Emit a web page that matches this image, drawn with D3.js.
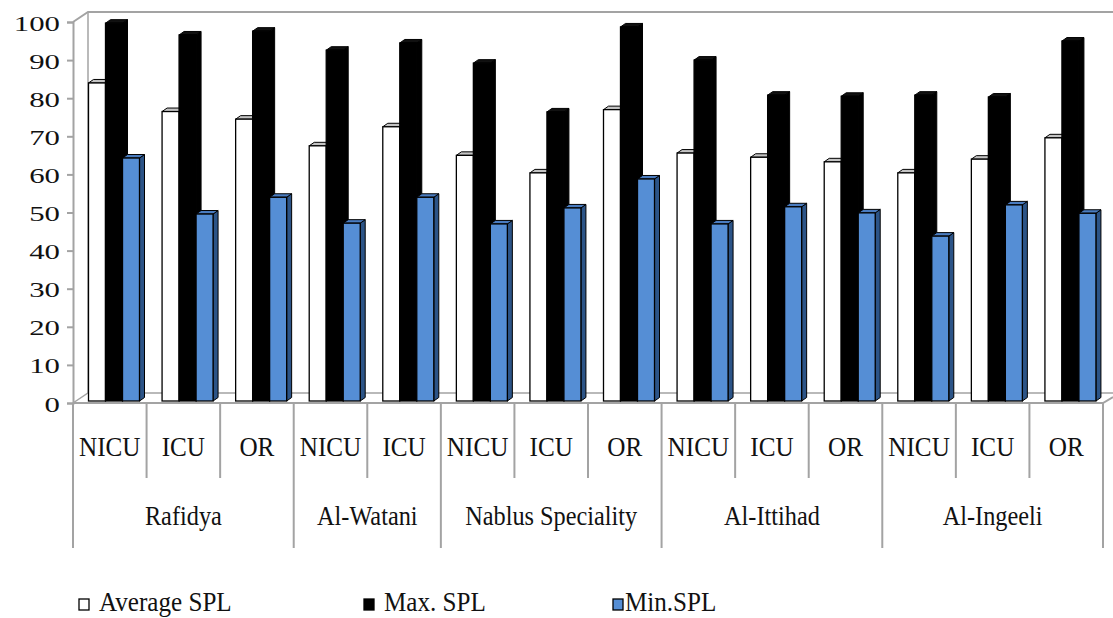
<!DOCTYPE html>
<html>
<head>
<meta charset="utf-8">
<script src="https://cdn.jsdelivr.net/npm/d3@7"></script>
<style>
  html, body { margin: 0; padding: 0; background: #fff; }
  svg { display: block; }
</style>
</head>
<body>
<svg id="chart" width="1113" height="618"></svg>
<script>
// ---- data ----
const categories = ["NICU","ICU","OR","NICU","ICU","NICU","ICU","OR","NICU","ICU","OR","NICU","ICU","OR"];
const hospitals = ["Rafidya","Al-Watani","Nablus Speciality","Al-Ittihad","Al-Ingeeli"];
const hospitalSizes = [3,2,3,3,3];
const avgSPL = [84, 76.5, 74.5, 67.5, 72.5, 65, 60.4, 77, 65.6, 64.5, 63.3, 60.4, 64, 69.6];
const maxSPL = [99.7, 96.6, 97.6, 92.6, 94.5, 89.2, 76.4, 98.7, 90, 80.8, 80.5, 80.8, 80.3, 95];
const minSPL = [64.3, 49.6, 54, 47.2, 54, 47, 51.2, 58.8, 47, 51.5, 49.9, 43.8, 52, 49.8];
const seriesNames = ["Average SPL","Max. SPL","Min.SPL"];
const yTicks = [0,10,20,30,40,50,60,70,80,90,100];

// ---- layout ----
const FONT = '"Liberation Serif", monospace';
const svg = d3.select("#chart");
const axisColor = "#a3a3a3";
const left = 73, right = 1103, dxW = 15, dyW = 10;
const x0 = d3.scaleBand().domain(d3.range(categories.length)).range([left, right]);
const x1 = d3.scaleBand().domain([0,1,2]).range([15.5, 66.5]);
const y = d3.scaleLinear().domain([0,100]).range([403, 22]);
const barBottom = y(0) - 2;
const ddx = 5, ddy = 3.5;

const styles = [
  {front:"#ffffff", top:"#c4c4c4", side:"#d8d8d8"},
  {front:"#000000", top:"#111111", side:"#000000"},
  {front:"#558ED5", top:"#4a7cc0", side:"#2c5487"}
];
const series = [avgSPL, maxSPL, minSPL];

function txt(sel, size) {
  return sel.attr("font-family", "Liberation Serif").style("font-family", FONT)
    .attr("font-size", size).attr("fill", "#111");
}

// back wall / floor
const g = svg.append("g");
g.append("path")
  .attr("d", `M${left},${y(100)} L${left+dxW},${y(100)-dyW} L1113,${y(100)-dyW}`)
  .attr("fill","none").attr("stroke",axisColor).attr("stroke-width",2);
g.append("line").attr("x1",left+dxW).attr("x2",left+dxW).attr("y1",y(100)-dyW).attr("y2",y(0)-dyW)
  .attr("stroke",axisColor).attr("stroke-width",1.5);
g.append("path")
  .attr("d", `M${left},${y(0)} L${left+dxW},${y(0)-dyW} L1113,${y(0)-dyW}`)
  .attr("fill","none").attr("stroke",axisColor).attr("stroke-width",1.5);

// bars
const bars = svg.append("g");
categories.forEach((c, i) => {
  series.forEach((vals, s) => {
    const st = styles[s];
    const bx = x0(i) + x1(s), w = x1.bandwidth();
    const yt = y(vals[i]), yb = barBottom;
    bars.append("path")
      .attr("d", `M${bx+w},${yt} L${bx+w+ddx},${yt-ddy} L${bx+w+ddx},${yb-ddy} L${bx+w},${yb} Z`)
      .attr("fill", st.side).attr("stroke","#000").attr("stroke-width",1);
    bars.append("path")
      .attr("d", `M${bx},${yt} L${bx+ddx},${yt-ddy} L${bx+w+ddx},${yt-ddy} L${bx+w},${yt} Z`)
      .attr("fill", st.top).attr("stroke","#000").attr("stroke-width",1);
    bars.append("rect")
      .attr("x", bx).attr("y", yt).attr("width", w).attr("height", yb - yt)
      .attr("fill", st.front).attr("stroke","#000").attr("stroke-width",1.3);
  });
});

// front floor line
svg.append("path")
  .attr("d", `M${left},${y(0)} L${right},${y(0)} L1113,${y(0)-6}`)
  .attr("fill","none").attr("stroke",axisColor).attr("stroke-width",2);

// y axis
const yAxis = d3.axisLeft(y).tickValues(yTicks).tickSize(6).tickFormat(d3.format("d"));
const ya = svg.append("g").attr("transform", `translate(${left},0)`).call(yAxis);
ya.attr("font-family", null).attr("font-size", null);
ya.select(".domain").attr("stroke", axisColor).attr("stroke-width", 2);
ya.selectAll(".tick line").attr("stroke", axisColor).attr("stroke-width", 2);
ya.selectAll(".tick text").remove();
txt(ya.selectAll(".tick").append("text"), 22)
  .attr("text-anchor","end")
  .attr("transform", "translate(-13,8) scale(1.4,1)")
  .text(d => d);

// category dividers
const groupStarts = [0];
hospitalSizes.forEach((n, k) => groupStarts.push(groupStarts[k] + n));
d3.range(categories.length + 1).forEach(i => {
  const xx = i < categories.length ? x0(i) : right;
  const isGroup = groupStarts.includes(i);
  svg.append("line").attr("x1", xx).attr("x2", xx)
    .attr("y1", y(0)).attr("y2", isGroup ? 548 : 478)
    .attr("stroke", axisColor).attr("stroke-width", 2);
});

// category labels
categories.forEach((c, i) => {
  txt(svg.append("text"), 28)
    .attr("text-anchor","middle")
    .attr("transform", `translate(${x0(i) + x0.bandwidth()/2},456) scale(0.9,1)`)
    .text(c);
});
hospitals.forEach((h, k) => {
  const xa = x0(groupStarts[k]);
  const xb = groupStarts[k+1] < categories.length ? x0(groupStarts[k+1]) : right;
  txt(svg.append("text"), 27)
    .attr("text-anchor","middle")
    .attr("transform", `translate(${(xa+xb)/2},525) scale(0.9,1)`)
    .text(h);
});

// legend
const legendX = [[79, 99], [364, 384], [613, 625]];
seriesNames.forEach((n, s) => {
  svg.append("rect")
    .attr("x", legendX[s][0]).attr("y", 599).attr("width", 10).attr("height", 11)
    .attr("fill", styles[s].front).attr("stroke", "#000").attr("stroke-width", 1.3);
  txt(svg.append("text"), 27)
    .attr("transform", `translate(${legendX[s][1]},611) scale(0.93,1)`)
    .text(n);
});
</script>
</body>
</html>
